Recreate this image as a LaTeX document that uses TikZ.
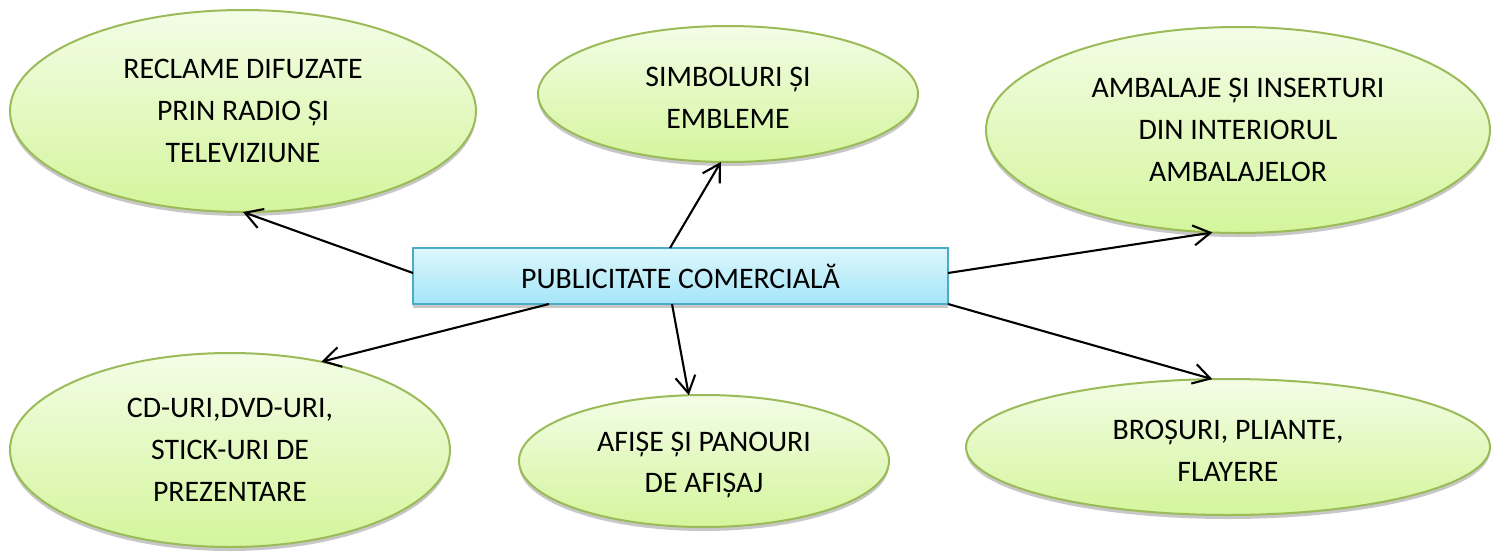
\documentclass[tikz,border=0pt]{standalone}
\usepackage{fontspec}
\setmainfont{Carlito}
\usetikzlibrary{shapes.geometric,arrows.meta,shadows,calc}
\definecolor{elltop}{HTML}{F3FDE6}
\definecolor{ellbot}{HTML}{D4F59C}
\definecolor{ellline}{HTML}{9BBB59}
\definecolor{boxtop}{HTML}{DDF7FD}
\definecolor{boxbot}{HTML}{A4E5F8}
\definecolor{boxline}{HTML}{4BACC6}
\newcommand{\lowerstrut}{\rule{0pt}{13.6pt}}
\begin{document}
\begin{tikzpicture}[x=0.5pt,y=-0.5pt,
  txt/.style={align=center, font=\fontsize{14.9}{20.85}\selectfont},
  idea/.style={ellipse, txt, draw=ellline, line width=1pt,
    top color=elltop, bottom color=ellbot, inner sep=0pt, outer sep=0pt,
    drop shadow={shadow xshift=0pt, shadow yshift=-2pt, opacity=0.22, fill=black}},
  hub/.style={rectangle, txt, draw=boxline, line width=1pt,
    top color=boxtop, bottom color=boxbot, inner sep=0pt, outer sep=0pt,
    minimum width=267.5pt, minimum height=28pt,
    drop shadow={shadow xshift=0pt, shadow yshift=-2pt, opacity=0.22, fill=black}},
  conn/.style={draw=black, line width=1.05pt, -{Straight Barb[length=8.5pt, width=10pt]}}
]
\useasboundingbox (0,0) rectangle (1500,552);

\node[idea, minimum width=233pt, minimum height=101pt] (e1) at (243,111)
  {RECLAME DIFUZATE\\PRIN RADIO ȘI\\TELEVIZIUNE};
\node[idea, minimum width=190pt, minimum height=68pt] (e2) at (728,94)
  {\lowerstrut SIMBOLURI ȘI\\EMBLEME};
\node[idea, minimum width=252pt, minimum height=103pt] (e3) at (1238,130)
  {AMBALAJE ȘI INSERTURI\\DIN INTERIORUL\\AMBALAJELOR};
\node[idea, minimum width=220pt, minimum height=97pt] (e4) at (230,450)
  {CD-URI,DVD-URI,\\STICK-URI DE\\PREZENTARE};
\node[idea, minimum width=185pt, minimum height=66pt] (e5) at (704,461)
  {\lowerstrut AFIȘE ȘI PANOURI\\DE AFIȘAJ};
\node[idea, minimum width=262pt, minimum height=68pt] (e6) at (1228,447)
  {\lowerstrut BROȘURI, PLIANTE,\\FLAYERE};

\node[hub] (box) at (680.5,276) {PUBLICITATE COMERCIALĂ};

\draw[conn] ($(box.west)+(0,-3)$) -- (e1.-90);
\draw[conn] ($(box.north)+(-10.5,0)$) -- (e2.-96);
\draw[conn] ($(box.east)+(0,-3)$) -- (e3.-104);
\draw[conn] ($(box.south)+(-131.5,0)$) -- (e4.44);
\draw[conn] ($(box.south)+(-8.5,0)$) -- (e5.103);
\draw[conn] (box.south east) -- (e6.103);
\end{tikzpicture}
\end{document}
